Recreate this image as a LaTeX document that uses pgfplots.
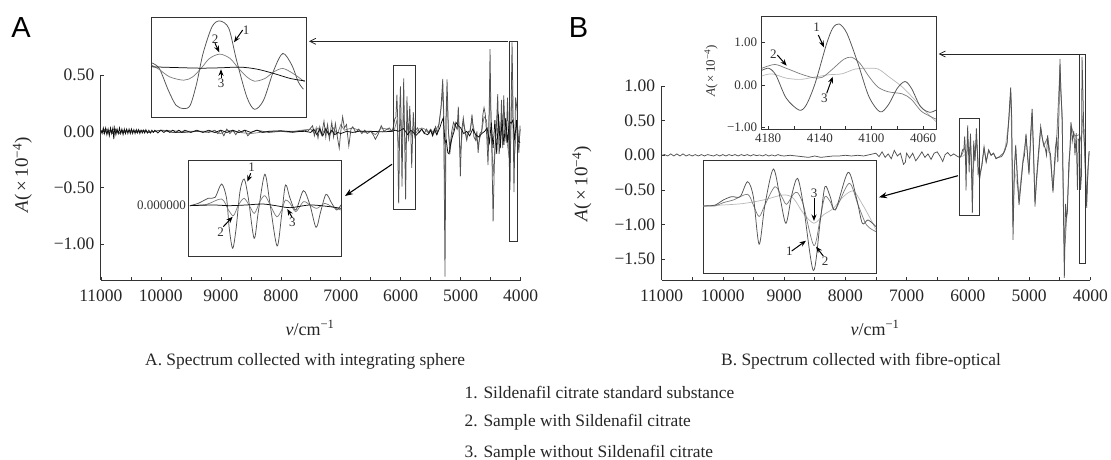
\documentclass[border=0pt]{standalone}
\usepackage{fontspec}
\usepackage{pgfplots}
\usetikzlibrary{arrows.meta}
\pgfplotsset{compat=1.18}
\setmainfont{Liberation Serif}
\newfontfamily\panelfont{Liberation Sans}
\definecolor{sA}{gray}{0.32}
\definecolor{sB}{gray}{0.48}
\definecolor{sC}{gray}{0.05}
\definecolor{lC}{gray}{0.72}
\definecolor{frm}{gray}{0.2}
\pgfplotsset{
  mainax/.style={scale only axis, clip=false, anchor=south west,
    x dir=reverse, xmin=4000, xmax=11000, scaled x ticks=false,
    axis x line=bottom, axis y line=left, axis line style={-,frm,line width=0.8pt},
    xtick={4000,5000,6000,7000,8000,9000,10000,11000},
    xticklabels={4000,5000,6000,7000,8000,9000,10000,11000},
    minor x tick num=1, tick align=inside, major tick length=3.5pt, minor tick length=3.5pt,
    tick style={frm,line width=0.6pt},
    ticklabel style={font=\fontsize{17.5}{17.5}\selectfont,text=black!85},
    xticklabel style={yshift=-6.5pt}, yticklabel style={xshift=-3pt},
  },
  inax/.style={scale only axis, anchor=south west, axis line style={frm,line width=1pt},
    xtick=\empty, ytick=\empty, x dir=reverse, fill=white, axis background/.style={fill=white}},
  s1/.style={sA,line width=0.75pt,no marks},
  s2/.style={sB,line width=0.7pt,no marks},
  s3/.style={sC,line width=0.75pt,no marks},
}
\begin{document}
\begin{tikzpicture}
\path[use as bounding box] (0pt,0pt) rectangle (1111pt,-460pt);

% ---------- Panel A main
\begin{axis}[mainax, at={(100.9pt,-280pt)}, width=419.8pt, height=205pt,
  ymin=-1.32, ymax=0.5, ytick={-1,-0.5,0,0.5}, yticklabels={−1.00,−0.50,0.00,0.50}]
\addplot[s2] coordinates {(11000,.01)(10950,-.02)(10900,.02)(10850,-.01)(10800,.02)(10700,-.02)(10600,.01)(10500,-.01)(10400,.01)(10200,-.01)(10000,.01)(9600,0)(9200,.0)(9000,-.02)(8900,.01)(8700,-.01)(8500,-.02)(8200,0)(7800,0)(7500,.02)(7440,-.02)(7380,.03)(7320,-.03)(7250,.03)(7190,-.04)(7120,.03)(7060,-.03)(7000,.06)(6940,.01)(6880,.02)(6800,.03)(6700,.01)(6600,-.01)(6500,.0)(6423,-.03)(6325,.03)(6230,.02)(6147,0)(6103,.02)(6064,.10)(6046,-.065)(6033,-.15)(6020,.01)(6005,.11)(5990,-.015)(5978,-.115)(5964,.06)(5951,.15)(5937,.01)(5920,-.165)(5907,-.065)(5897,.085)(5885,.035)(5870,-.09)(5850,.06)(5833,.01)(5815,-.04)(5794,.035)(5776,-.015)(5752,-.02)(5700,.02)(5650,.03)(5600,.02)(5550,-.01)(5500,.02)(5450,-.02)(5400,.03)(5360,.06)(5330,.2)(5300,.35)(5285,.15)(5262,-.65)(5245,.1)(5228,.3)(5205,.0)(5180,-.2)(5150,-.05)(5100,.06)(5060,.02)(5040,.12)(5006,-.2)(4957,.08)(4900,-.05)(4850,0)(4812,.1)(4750,-.05)(4710,-.12)(4650,.0)(4611,.13)(4570,.1)(4545,-.15)(4511,.4)(4480,-.1)(4460,-.4)(4420,-.05)(4383,.18)(4340,-.05)(4283,.18)(4240,-.05)(4178,-.28)(4144,.4)(4112,-.28)(4060,.1)(4030,-.1)(4005,.02)};
\addplot[s1] coordinates {(11000,-.01)(10950,.02)(10900,-.02)(10850,.01)(10800,-.02)(10750,.02)(10700,-.02)(10650,.01)(10600,-.01)(10500,.01)(10400,-.01)(10300,.01)(10200,-.01)(10000,.01)(9800,-.01)(9600,-.01)(9400,0)(9200,-.01)(9100,.01)(9050,-.02)(9000,.01)(8950,-.04)(8900,.02)(8850,-.02)(8800,.01)(8750,-.03)(8700,.01)(8650,-.01)(8600,.01)(8550,-.04)(8500,-.01)(8400,.01)(8200,-.01)(8000,0)(7800,-.01)(7600,.01)(7550,0)(7500,.03)(7470,.05)(7440,-.04)(7410,.03)(7380,-.06)(7350,.04)(7320,-.03)(7280,.09)(7250,-.05)(7220,.06)(7190,-.07)(7150,.08)(7120,-.05)(7090,.07)(7060,-.04)(7026,-.15)(7000,0)(6969,.13)(6940,.03)(6905,.06)(6866,-.13)(6830,.02)(6800,.04)(6750,-.01)(6700,.02)(6650,-.02)(6600,.01)(6560,-.02)(6500,0)(6460,-.03)(6423,-.07)(6380,-.03)(6325,.05)(6280,0)(6230,.02)(6190,.03)(6147,0)(6125,.035)(6099,.11)(6081,.125)(6064,.325)(6051,.11)(6044,-.34)(6035,-.64)(6026,-.34)(6016,.21)(6005,.40)(5994,.11)(5979,-.49)(5968,-.09)(5951,.47)(5937,.01)(5919,-.605)(5907,-.14)(5897,.31)(5885,.11)(5870,-.065)(5850,.225)(5833,.01)(5817,-.325)(5805,-.09)(5791,.17)(5776,.035)(5763,-.065)(5752,.01)(5720,.03)(5690,-.01)(5650,.02)(5610,-.02)(5570,.02)(5530,-.02)(5500,.01)(5460,-.03)(5420,.04)(5390,-.02)(5360,.08)(5330,.2)(5300,.465)(5285,.2)(5262,-1.29)(5245,.1)(5228,.46)(5205,0)(5180,-.15)(5150,0)(5120,.08)(5090,.05)(5060,.02)(5040,.22)(5025,0)(5006,-.40)(4985,0)(4957,.12)(4930,0)(4900,-.08)(4870,0)(4840,0)(4812,.15)(4780,-.05)(4750,-.08)(4730,0)(4710,-.19)(4680,-.02)(4650,0)(4630,.15)(4611,.21)(4590,.15)(4565,-.05)(4545,-.30)(4530,0)(4511,.73)(4495,.1)(4480,-.2)(4460,-.80)(4440,-.3)(4420,-.1)(4400,.1)(4383,.33)(4360,-.2)(4340,-.1)(4320,.28)(4300,-.15)(4283,.32)(4260,0)(4240,-.1)(4220,.3)(4200,-.1)(4178,-.52)(4160,.2)(4144,.79)(4130,.3)(4112,-.54)(4095,0)(4085,.3)(4060,.19)(4045,-.1)(4030,-.19)(4010,.05)};
\addplot[s3] coordinates {(11000,.01)(10980,-.02)(10960,.03)(10940,-.02)(10920,.03)(10900,-.03)(10880,.02)(10860,-.04)(10840,.03)(10820,-.02)(10800,.03)(10785,-.07)(10770,.03)(10750,-.03)(10730,.02)(10710,-.02)(10690,.03)(10670,-.02)(10650,.02)(10630,-.03)(10610,.02)(10590,-.02)(10570,.02)(10550,-.02)(10530,.02)(10510,-.02)(10490,.02)(10470,-.02)(10450,.015)(10430,-.02)(10410,.015)(10390,-.015)(10370,.015)(10350,-.02)(10330,.01)(10310,-.015)(10290,.01)(10270,-.015)(10250,.015)(10225,-.015)(10200,.01)(10175,-.015)(10150,.01)(10125,-.01)(10100,.01)(10050,-.015)(10000,.01)(9950,-.01)(9900,.01)(9850,-.01)(9800,.01)(9750,-.01)(9700,.01)(9650,-.01)(9600,.01)(9500,-.01)(9400,.01)(9300,-.01)(9200,.01)(9100,-.01)(9000,.01)(8900,-.01)(8800,.01)(8700,-.01)(8600,.01)(8500,-.01)(8400,.01)(8300,-.01)(8200,0)(8000,.005)(7800,-.005)(7600,.0)(7500,-.01)(7450,.02)(7400,-.03)(7350,.02)(7300,-.04)(7250,.02)(7200,-.03)(7150,.01)(7100,-.03)(7050,-.01)(7000,-.02)(6900,.0)(6800,-.01)(6700,.0)(6500,.0)(6300,-.005)(6147,0)(6086,.01)(6044,0)(6000,.01)(5957,.025)(5922,0)(5885,-.03)(5833,.01)(5781,-.015)(5752,-.04)(5700,-.01)(5650,.02)(5600,-.02)(5550,-.03)(5500,.01)(5470,-.04)(5440,.02)(5400,-.03)(5350,.03)(5320,.08)(5290,.12)(5262,-.1)(5240,-.08)(5215,-.19)(5195,-.2)(5170,-.12)(5140,-.05)(5110,.0)(5080,.08)(5040,.05)(5000,.03)(4950,-.02)(4900,.0)(4850,-.04)(4800,.02)(4750,-.03)(4700,-.05)(4650,-.02)(4600,.0)(4560,.03)(4520,-.1)(4490,.08)(4460,-.15)(4430,.1)(4400,-.2)(4370,.15)(4340,-.15)(4310,.1)(4280,-.12)(4250,.12)(4220,-.1)(4190,.09)(4160,.07)(4130,.1)(4100,-.08)(4070,.1)(4040,-.09)(4010,-.1)};
\end{axis}

% ---------- Panel B main
\begin{axis}[mainax, at={(661.6pt,-280pt)}, width=428.7pt, height=194pt,
  ymin=-1.8, ymax=1.0, ytick={-1.5,-1,-0.5,0,0.5,1}, yticklabels={−1.50,−1.00,−0.50,0.00,0.50,1.00}]
\addplot[color=lC,line width=0.6pt,no marks] coordinates {(6135,-.03)(6097,-.018)(6059,0)(6021,.044)(5983,.107)(5964,.065)(5945,-.122)(5925,-.246)(5907,-.142)(5888,-.06)(5869,.086)(5850,.156)(5834,.003)(5818,-.184)(5807,-.33)(5770,-.12)(5735,.1)(5700,-.08)(5660,.06)(5620,.0)(5580,.03)(5540,-.04)(5500,-.03)(5400,.05)(5330,.5)(5300,.9)(5262,-.9)(5240,-.2)(5164,-.6)(5100,-.05)(5050,.25)(5001,-.2)(4950,.6)(4903,-.6)(4810,.38)(4760,.12)(4696,.25)(4609,-.45)(4549,.2)(4495,1.2)(4461,.5)(4424,-1.2)(4375,-.7)(4315,.4)(4270,.3)(4230,.25)(4175,.2)(4145,.3)(4120,.36)(4095,.37)(4059,-.6)(4020,.03)};
\addplot[s2] coordinates {(6135,-.03)(6097,.011)(6078,.044)(6051,.115)(6040,-.018)(6029,-.163)(6018,-.018)(5999,.21)(5986,.086)(5977,-.01)(5964,.115)(5956,.136)(5945,-.018)(5925,-.524)(5913,-.184)(5904,.086)(5894,.024)(5884,-.072)(5858,.252)(5841,-.018)(5825,-.267)(5807,-.35)(5770,-.13)(5735,.1)(5700,-.09)(5660,.07)(5620,.0)(5580,.03)(5540,-.04)(5500,-.03)(5420,.03)(5360,.18)(5330,.5)(5300,.92)(5285,.55)(5262,-1.0)(5240,-.2)(5218,.12)(5164,-.65)(5100,-.1)(5050,.27)(5001,-.25)(4950,.62)(4903,-.68)(4810,.38)(4760,.14)(4696,.26)(4650,.0)(4609,-.5)(4549,.24)(4495,1.28)(4461,.55)(4424,-1.45)(4375,-.75)(4315,.44)(4270,.3)(4230,.28)(4175,.3)(4150,.2)(4118,.62)(4087,-.16)(4059,-.62)(4020,.04)};
\addplot[s1] coordinates {(11000,0)(10950,.01)(10900,-.01)(10850,.02)(10800,-.01)(10750,.02)(10700,-.01)(10650,.02)(10600,-.01)(10550,.01)(10500,-.01)(10450,.01)(10400,-.01)(10350,.01)(10300,-.01)(10250,.01)(10200,0)(10150,-.01)(10100,.01)(10050,-.01)(10000,.01)(9950,-.01)(9900,.01)(9850,-.005)(9800,.01)(9750,-.01)(9700,.01)(9650,-.005)(9600,.01)(9550,-.01)(9500,.01)(9450,-.005)(9400,.005)(9350,-.01)(9300,.01)(9250,-.01)(9200,.005)(9150,-.01)(9100,.01)(9050,-.005)(9000,-.01)(8900,.0)(8800,-.01)(8700,-.02)(8600,-.03)(8500,-.01)(8400,-.03)(8300,-.02)(8200,-.01)(8100,-.01)(8000,.0)(7900,-.01)(7800,.0)(7700,-.01)(7600,.01)(7500,.03)(7450,-.02)(7400,.05)(7350,-.03)(7300,.02)(7250,-.05)(7200,.07)(7150,-.01)(7100,.03)(7050,-.13)(7020,-.10)(7000,.03)(6950,-.04)(6900,.03)(6850,-.08)(6800,-.02)(6750,.05)(6700,-.03)(6650,.02)(6600,-.06)(6550,.03)(6500,.05)(6450,-.02)(6410,-.09)(6370,.01)(6330,.04)(6280,-.01)(6230,.02)(6180,-.01)(6135,-.03)(6113,-.02)(6097,.044)(6081,.086)(6065,.086)(6051,.272)(6040,.086)(6029,-.508)(6018,-.018)(6002,.43)(5989,.065)(5978,-.246)(5967,.107)(5956,.314)(5945,-.018)(5926,-.836)(5913,-.225)(5904,.21)(5894,.086)(5884,-.08)(5860,.389)(5844,.065)(5833,-.246)(5822,-.205)(5807,-.288)(5770,-.15)(5735,.12)(5700,-.1)(5660,.08)(5620,.0)(5580,.03)(5540,-.05)(5500,-.03)(5450,-.02)(5420,.02)(5390,.08)(5360,.16)(5330,.55)(5300,.98)(5285,.6)(5262,-1.22)(5240,-.2)(5218,.15)(5195,-.3)(5164,-.72)(5130,-.4)(5100,-.1)(5075,0)(5050,.31)(5025,0)(5001,-.28)(4975,.3)(4950,.67)(4928,.1)(4903,-.74)(4880,-.35)(4850,0)(4810,.42)(4785,.25)(4760,.15)(4735,.1)(4715,0)(4696,.29)(4675,.05)(4650,.02)(4625,-.35)(4609,-.54)(4590,-.2)(4570,.1)(4549,.26)(4530,-.1)(4510,.7)(4495,1.39)(4480,.9)(4461,.61)(4445,-.4)(4424,-1.77)(4405,-.7)(4390,-.9)(4375,-.83)(4350,-.1)(4330,.1)(4315,.48)(4295,.2)(4270,.35)(4250,0)(4230,.32)(4210,-.5)(4195,.22)(4175,.25)(4160,-.5)(4145,-.3)(4135,1.42)(4120,.9)(4105,.3)(4090,.1)(4075,-.3)(4059,-.76)(4040,-.2)(4020,.05)(4005,.05)};
\end{axis}

% ---------- Inset A top
\begin{axis}[inax, at={(151.6pt,-117pt)}, width=154.4pt, height=99.7pt,
  xmin=4060, xmax=4180, ymin=-1.48, ymax=1.5]
\addplot[s1,smooth] coordinates {(4180,.14)(4174,-.03)(4167,-.68)(4161,-1.13)(4155,-1.23)(4150,-1.13)(4145,-.48)(4140,.42)(4133,1.22)(4127,1.39)(4120,1.17)(4114,.22)(4106,-.88)(4100,-1.25)(4093,-.98)(4085,-.08)(4078,.42)(4071,.07)(4066,-.43)(4062,-.65)};
\addplot[s2,smooth] coordinates {(4180,.07)(4174,-.06)(4166,-.28)(4155,-.38)(4148,-.28)(4141,0)(4135,.27)(4127,.40)(4119,.27)(4113,0)(4106,-.28)(4100,-.41)(4092,-.33)(4085,-.13)(4078,-.03)(4070,-.18)(4061,-.43)};
\addplot[s3,smooth] coordinates {(4180,.02)(4163,0)(4142,-.02)(4127,-.01)(4111,.01)(4098,-.05)(4085,-.18)(4072,-.33)(4061,-.40)};
\end{axis}

% ---------- Inset A bottom
\begin{axis}[inax, at={(188.7pt,-256pt)}, width=153pt, height=96pt,
  xmin=5750, xmax=6150, ymin=-.755, ymax=.685]
\addplot[s1,smooth] coordinates {(6147,0)(6125,.035)(6099,.11)(6081,.125)(6064,.325)(6051,.11)(6044,-.34)(6035,-.64)(6026,-.34)(6016,.21)(6005,.40)(5994,.11)(5979,-.49)(5968,-.09)(5951,.47)(5937,.01)(5919,-.605)(5907,-.14)(5897,.31)(5885,.11)(5870,-.065)(5850,.225)(5833,.01)(5817,-.325)(5805,-.09)(5791,.17)(5776,.035)(5763,-.065)(5752,.01)};
\addplot[s2,smooth] coordinates {(6147,0)(6103,.02)(6064,.10)(6046,-.065)(6033,-.15)(6020,.01)(6005,.11)(5990,-.015)(5978,-.115)(5964,.06)(5951,.15)(5937,.01)(5920,-.165)(5907,-.065)(5897,.085)(5885,.035)(5870,-.09)(5850,.06)(5833,.01)(5815,-.04)(5794,.035)(5776,-.015)(5752,-.065)};
\addplot[s3,smooth] coordinates {(6147,0)(6086,.01)(6044,0)(6000,.01)(5957,.025)(5922,0)(5885,-.03)(5833,.01)(5781,-.015)(5752,-.04)};
\end{axis}

% ---------- Inset B top
\begin{axis}[inax, at={(761.7pt,-129.3pt)}, width=174.3pt, height=112.6pt,
  xmin=4050, xmax=4185, ymin=-1.04, ymax=1.6, scaled x ticks=false,
  axis line style={frm,line width=1pt},
  xtick={4060,4100,4140,4180}, xticklabels={4060,4100,4140,4180}, ytick={-1,0,1},
  yticklabels={−1.00,0.00,1.00},
  minor x tick num=1, tick align=inside, major tick length=3pt, minor tick length=3pt,
  xtick pos=bottom, ytick pos=left, tick style={frm,line width=0.5pt},
  ticklabel style={font=\fontsize{13}{13}\selectfont,text=black!80},
  xticklabel style={yshift=-1pt}, yticklabel style={xshift=-1pt}]
\addplot[color=lC,line width=0.7pt,no marks,smooth] coordinates {(4185,.21)(4177,.26)(4166,.16)(4155,.13)(4145,.18)(4132.5,.24)(4123,.26)(4113,.37)(4105,.39)(4095,.375)(4086,.18)(4076,-.05)(4066.4,-.35)(4058,-.625)(4050,-.86)};
\addplot[s2,smooth] coordinates {(4185,.39)(4175,.48)(4166,.39)(4155,.26)(4145,.17)(4138,.18)(4130,.375)(4121.5,.60)(4115.5,.65)(4109,.51)(4102,.2)(4095,-.05)(4087,-.16)(4076,-.21)(4069,-.34)(4061,-.625)(4050,-.80)};
\addplot[s1,smooth] coordinates {(4185,.34)(4179.5,.39)(4174,.23)(4166,-.31)(4156,-.59)(4150.5,-.47)(4143.6,.04)(4135,.94)(4130,1.33)(4125,1.43)(4119,1.21)(4110.5,.51)(4102,-.27)(4093.4,-.63)(4087,-.47)(4080,-.08)(4074,.08)(4069,-.08)(4062,-.51)(4055,-.64)(4050,-.59)};
\end{axis}

% ---------- Inset B bottom
\begin{axis}[inax, at={(703.3pt,-273.3pt)}, width=172.7pt, height=112.6pt,
  xmin=5807, xmax=6135, ymin=-.87, ymax=.534]
\addplot[color=lC,line width=0.7pt,no marks,smooth] coordinates {(6135,-.03)(6097,-.018)(6059,0)(6021,.044)(5983,.107)(5964,.065)(5945,-.122)(5925,-.246)(5907,-.142)(5888,-.06)(5869,.086)(5850,.156)(5834,.003)(5818,-.184)(5807,-.33)};
\addplot[s2,smooth] coordinates {(6135,-.03)(6113,-.03)(6097,.011)(6078,.044)(6051,.115)(6040,-.018)(6029,-.163)(6018,-.018)(5999,.21)(5986,.086)(5977,-.01)(5964,.115)(5956,.136)(5945,-.018)(5925,-.524)(5913,-.184)(5904,.086)(5894,.024)(5884,-.072)(5858,.252)(5841,-.018)(5825,-.267)(5807,-.35)};
\addplot[s1,smooth] coordinates {(6135,-.03)(6113,-.02)(6097,.044)(6081,.086)(6065,.086)(6051,.272)(6040,.086)(6029,-.508)(6018,-.018)(6002,.43)(5989,.065)(5978,-.246)(5967,.107)(5956,.314)(5945,-.018)(5926,-.836)(5913,-.225)(5904,.21)(5894,.086)(5884,-.08)(5860,.389)(5844,.065)(5833,-.246)(5822,-.205)(5807,-.288)};
\end{axis}

% ---------- Annotations, in image pixels
\begin{scope}[x=1pt,y=-1pt]
\tikzset{pn/.style={font=\fontsize{13}{13}\selectfont,text=black!80,inner sep=0pt},
  ar/.style={-{Stealth[length=6.5pt,width=5pt]},black,line width=1pt},
  thinar/.style={-{Straight Barb[length=6pt,width=6pt]},black!85,line width=0.8pt},
  thickar/.style={-{Stealth[length=8pt,width=6pt]},black,line width=1.1pt}}
\node[font=\panelfont\fontsize{29}{29}\selectfont] at (21,28) {A};
\node[font=\panelfont\fontsize{29}{29}\selectfont] at (578.6,28) {B};
% selection boxes
\draw[frm,line width=0.7pt] (393,65.7) rectangle (415.3,209);
\draw[frm,line width=0.7pt] (509,41.3) rectangle (517.3,241);
\draw[frm,line width=0.7pt] (959.3,118.3) rectangle (979.3,215.7);
\draw[frm,line width=0.7pt] (1079.3,54) rectangle (1085,263.3);
% linking arrows
\draw[thinar] (508,41.3) -- (309,41.3);
\draw[thickar] (392,164.3) -- (345,196);
\draw[thinar] (1079.5,54) -- (938.5,54);
\draw[thickar] (958,175.7) -- (879,197.3);
% labels in insets
\node[pn] at (246,30) {1}; \draw[ar] (242.7,30) -- (234,42.3);
\node[pn] at (215,39) {2}; \draw[ar] (215,43.3) -- (219.3,52.3);
\node[pn] at (221,83) {3}; \draw[ar] (221,78) -- (221,69.3);
\node[pn] at (251.7,167.7) {1}; \draw[ar] (250.7,173.3) -- (247.3,181.7);
\node[pn] at (220.7,231.7) {2}; \draw[ar] (223.3,226.7) -- (232.7,216.7);
\node[pn] at (292.3,222) {3}; \draw[ar] (292.3,217.7) -- (287.3,209);
\node[pn,anchor=east] at (186,205) {0.000000};
\node[pn] at (816.7,27.3) {1}; \draw[ar] (818.3,35) -- (824,47.3);
\node[pn] at (773.3,54) {2}; \draw[ar] (777.3,55) -- (786.7,65.7);
\node[pn] at (824.3,98.3) {3}; \draw[ar] (826.7,93.3) -- (832.7,76.7);
\node[pn] at (814,193.3) {3}; \draw[ar] (814,198.3) -- (814,221);
\node[pn] at (789.3,251.7) {1}; \draw[ar] (791.7,251) -- (806,240.7);
\node[pn] at (825,260.7) {2}; \draw[ar] (823.3,256) -- (816,246.7);
% axis titles
\node[rotate=90,font=\fontsize{19}{19}\selectfont,text=black!85] at (22.4,175) {\textit{A}(\,×\,10\textsuperscript{−4})};
\node[rotate=90,font=\fontsize{19}{19}\selectfont,text=black!85] at (582,184) {\textit{A}(\,×\,10\textsuperscript{−4})};
\node[rotate=90,font=\fontsize{13}{13}\selectfont,text=black!80] at (711,71) {\textit{A}(\,×\,10\textsuperscript{−4})};
\node[font=\fontsize{18}{18}\selectfont,text=black!85] at (310,328) {\textit{v}/cm\textsuperscript{−1}};
\node[font=\fontsize{18}{18}\selectfont,text=black!85] at (875,328) {\textit{v}/cm\textsuperscript{−1}};
% captions
\node[anchor=west,inner sep=0pt,font=\fontsize{17.4}{17.4}\selectfont,text=black!85] at (145,361) {A. Spectrum collected with integrating sphere};
\node[anchor=west,inner sep=0pt,font=\fontsize{17.4}{17.4}\selectfont,text=black!85] at (721,361) {B. Spectrum collected with fibre-optical};
\node[anchor=west,inner sep=0pt,font=\fontsize{17.4}{17.4}\selectfont,text=black!85] at (464.5,392) {1. Sildenafil citrate standard substance};
\node[anchor=west,inner sep=0pt,font=\fontsize{17.4}{17.4}\selectfont,text=black!85] at (464.5,422) {2. Sample with Sildenafil citrate};
\node[anchor=west,inner sep=0pt,font=\fontsize{17.4}{17.4}\selectfont,text=black!85] at (464.5,453) {3. Sample without Sildenafil citrate};
\end{scope}
\end{tikzpicture}
\end{document}
